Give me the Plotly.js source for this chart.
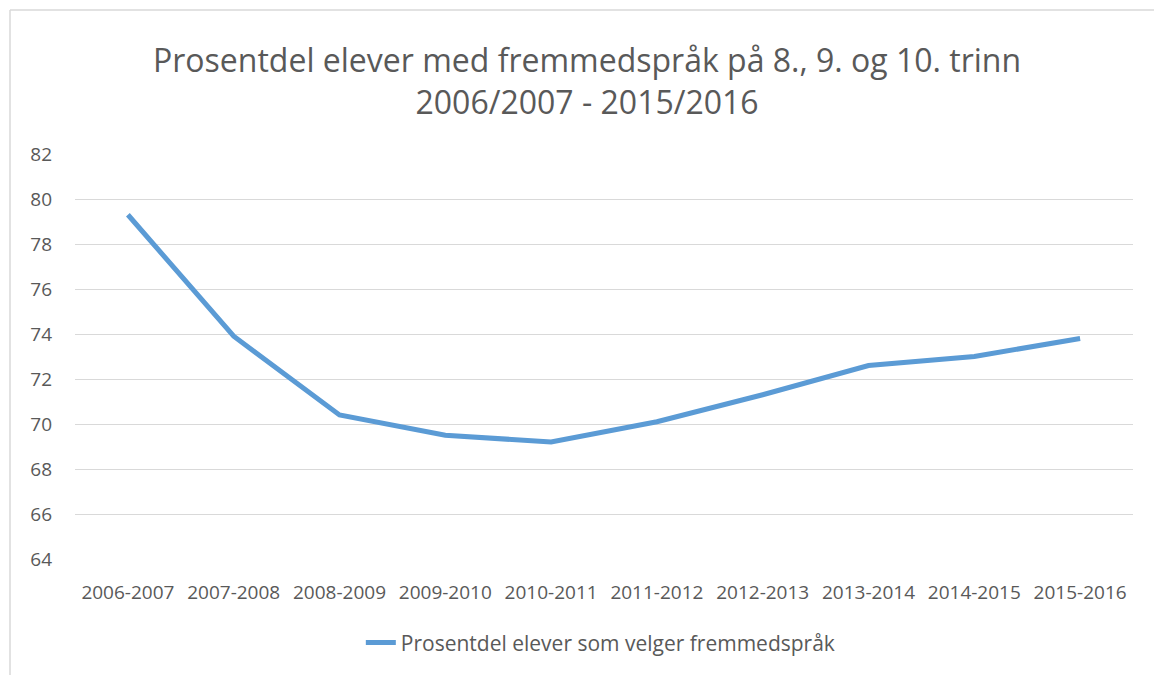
<!DOCTYPE html>
<html>
<head>
<meta charset="utf-8">
<script src="https://cdn.plot.ly/plotly-3.0.1.min.js"></script>
<style>html,body{margin:0;padding:0;background:#fff}#chart{width:1154px;height:675px}</style>
</head>
<body>
<div id="chart"></div>
<script>
const categories = ["2006-2007","2007-2008","2008-2009","2009-2010","2010-2011","2011-2012","2012-2013","2013-2014","2014-2015","2015-2016"];
const values = [79.3, 73.9, 70.4, 69.5, 69.2, 70.1, 71.3, 72.6, 73.0, 73.8];
const seriesName = "Prosentdel elever som velger fremmedspråk";
const yTicks = [64, 66, 68, 70, 72, 74, 76, 78, 80, 82];
const titleText = "Prosentdel elever med fremmedspråk på 8., 9. og 10. trinn<br>2006/2007 - 2015/2016";

const textColor = "#595959";
const font = "Open Sans, sans-serif";

const trace = {
  x: categories, y: values, name: seriesName, type: "scatter", mode: "lines",
  line: {color: "#5b9bd5", width: 5}
};

const layout = {
  width: 1154, height: 675,
  margin: {l: 75, r: 21, t: 154, b: 116},
  paper_bgcolor: "#fff", plot_bgcolor: "#fff",
  title: {
    text: titleText,
    font: {family: font, size: 32, color: textColor},
    x: 0.484, xref: "paper", xanchor: "center",
    y: 1 - 72/675, yref: "container", yanchor: "middle"
  },
  xaxis: {
    type: "category", range: [-0.5, categories.length - 0.5],
    showgrid: false, zeroline: false, showline: false, ticks: "",
    tickfont: {family: font, size: 19, color: textColor},
    tickangle: 0,
    ticklabelstandoff: 20
  },
  yaxis: {
    range: [64, 82], tickvals: yTicks, ticktext: yTicks.map(String),
    showgrid: true, gridcolor: "#d9d9d9", gridwidth: 1, zeroline: false, showline: false, ticks: "",
    tickfont: {family: font, size: 19, color: textColor},
    ticklabelstandoff: 22
  },
  showlegend: true,
  legend: {
    orientation: "h", x: 0.497, xanchor: "center", y: -0.207, yanchor: "middle",
    font: {family: font, size: 21, color: textColor}
  },
  shapes: [
    {type: "line", xref: "paper", yref: "paper", x0: (10-75)/1058, x1: 1.2, y0: (559-10)/405, y1: (559-10)/405, line: {color: "#d9d9d9", width: 1.5}},
    {type: "line", xref: "paper", yref: "paper", x0: (10-75)/1058, x1: (10-75)/1058, y0: (559-10)/405, y1: -0.5, line: {color: "#d9d9d9", width: 1.5}}
  ]
};

Plotly.newPlot("chart", [trace], layout, {displayModeBar: false, responsive: false});
</script>
</body>
</html>
